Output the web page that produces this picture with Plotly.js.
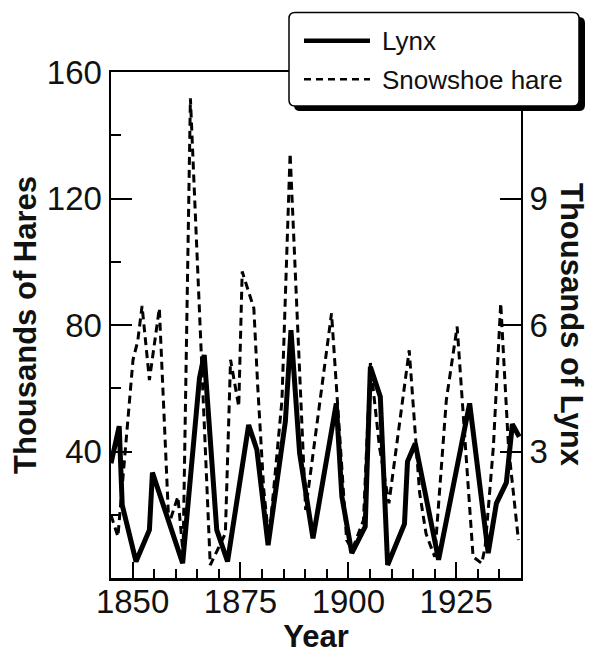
<!DOCTYPE html>
<html><head><meta charset="utf-8">
<script src="https://cdn.plot.ly/plotly-3.0.1.min.js"></script>
<style>html,body{margin:0;padding:0;background:#fff}#chart{width:589px;height:654px}</style>
</head><body><div id="chart"></div>
<script>
// Lynx pelts (thousands) - right axis
const lynxYears = [1845.0, 1846.9, 1847.6, 1850.8, 1853.9, 1854.6, 1861.6, 1865.5, 1866.6, 1869.5, 1872.0, 1876.9, 1878.8, 1881.4, 1885.4, 1886.7, 1888.7, 1891.8, 1897.2, 1898.5, 1900.8, 1903.9, 1905.1, 1907.4, 1909.1, 1913.0, 1913.7, 1915.5, 1920.9, 1928.1, 1932.4, 1934.3, 1936.6, 1938.0, 1939.6];
const lynxThousands = [2.72, 3.60, 1.73, 0.39, 1.14, 2.50, 0.35, 4.74, 5.29, 1.14, 0.39, 3.63, 3.04, 0.78, 3.71, 5.88, 2.96, 0.94, 4.14, 1.93, 0.59, 1.22, 5.01, 4.30, 0.31, 1.28, 2.76, 3.19, 0.43, 4.14, 0.59, 1.77, 2.26, 3.65, 3.35];
// Snowshoe hare pelts (thousands) - left axis
const hareYears = [1845.0, 1846.6, 1850.1, 1851.2, 1852.2, 1853.9, 1856.2, 1858.4, 1860.5, 1861.7, 1863.4, 1868.0, 1871.5, 1872.7, 1874.6, 1875.4, 1878.1, 1879.0, 1880.4, 1881.6, 1884.6, 1886.5, 1890.1, 1896.1, 1899.6, 1900.9, 1903.5, 1905.1, 1907.2, 1909.4, 1914.1, 1916.5, 1918.0, 1920.0, 1922.7, 1925.2, 1928.9, 1930.9, 1931.7, 1933.6, 1935.3, 1937.1, 1939.4];
const hareThousands = [19.9, 13.1, 69.0, 75.0, 86.0, 62.6, 85.3, 17.0, 25.7, 7.8, 151.7, 4.1, 14.1, 69.0, 54.2, 96.9, 85.3, 60.5, 27.8, 12.0, 56.0, 134.3, 21.5, 83.7, 12.0, 8.9, 18.3, 68.0, 41.5, 23.6, 72.0, 27.0, 14.0, 6.7, 56.3, 79.5, 6.7, 4.6, 9.9, 41.5, 86.9, 41.5, 12.0];

const xTickVals = [1850, 1875, 1900, 1925];
const xTickText = ['1850', '1875', '1900', '1925'];
const hareTickVals = [40, 80, 120, 160];
const hareTickText = ['40', '80', '120', '160'];
const lynxTickVals = [3, 6, 9];
const lynxTickText = ['3', '6', '9'];
const seriesNames = ['Lynx', 'Snowshoe hare'];

const F = 'Liberation Sans, Arial, Helvetica, sans-serif';
const L = 111, R = 68, T = 72, B = 76, W = 589, H = 654;
const pw = W - L - R, ph = H - T - B;
const px = v => (v - L) / pw;
const py = v => (H - B - v) / ph;

const lynxLine = {color: '#000', width: 5};
const hareLine = {color: '#000', width: 3, dash: '8px,5px'};

const traces = [
  {name: seriesNames[0], x: lynxYears, y: lynxThousands, yaxis: 'y2', type: 'scatter', mode: 'lines',
   line: lynxLine, hoverinfo: 'skip', showlegend: false},
  {name: seriesNames[1], x: hareYears, y: hareThousands, yaxis: 'y', type: 'scatter', mode: 'lines',
   line: hareLine, hoverinfo: 'skip', showlegend: false}
];

// legend box (pixel geometry converted to paper coordinates)
function roundRect(x0, y0, x1, y1, r) {
  const X = v => px(v), Y = v => py(v);
  return 'M' + X(x0 + r) + ',' + Y(y0) + ' L' + X(x1 - r) + ',' + Y(y0) +
    ' Q' + X(x1) + ',' + Y(y0) + ' ' + X(x1) + ',' + Y(y0 + r) +
    ' L' + X(x1) + ',' + Y(y1 - r) +
    ' Q' + X(x1) + ',' + Y(y1) + ' ' + X(x1 - r) + ',' + Y(y1) +
    ' L' + X(x0 + r) + ',' + Y(y1) +
    ' Q' + X(x0) + ',' + Y(y1) + ' ' + X(x0) + ',' + Y(y1 - r) +
    ' L' + X(x0) + ',' + Y(y0 + r) +
    ' Q' + X(x0) + ',' + Y(y0) + ' ' + X(x0 + r) + ',' + Y(y0) + ' Z';
}

const shapes = [
  {type: 'path', xref: 'paper', yref: 'paper', path: roundRect(294, 17, 585, 111, 6),
   fillcolor: '#000', line: {width: 0}, layer: 'above'},
  {type: 'path', xref: 'paper', yref: 'paper', path: roundRect(289, 12.5, 579, 106, 6),
   fillcolor: '#fff', line: {color: '#000', width: 1.5}, layer: 'above'},
  {type: 'line', xref: 'paper', yref: 'paper', x0: px(304), x1: px(370), y0: py(40.7), y1: py(40.7),
   line: {color: '#000', width: 4.5}, layer: 'above'},
  {type: 'line', xref: 'paper', yref: 'paper', x0: px(304), x1: px(370), y0: py(79.3), y1: py(79.3),
   line: {color: '#000', width: 2.5, dash: '7px,5px'}, layer: 'above'}
];

const annotations = [
  {text: 'Thousands of Lynx', xref: 'paper', yref: 'paper', x: px(572), y: 0.5,
   xanchor: 'center', yanchor: 'middle', textangle: 90, showarrow: false,
   font: {size: 31, weight: 'bold', color: '#111'}},
  {text: seriesNames[0], xref: 'paper', yref: 'paper', x: px(380), y: py(41), xanchor: 'left', yanchor: 'middle',
   showarrow: false, font: {size: 26, color: '#111'}},
  {text: seriesNames[1], xref: 'paper', yref: 'paper', x: px(380), y: py(79.5), xanchor: 'left', yanchor: 'middle',
   showarrow: false, font: {size: 26, color: '#111'}}
];

const layout = {
  width: W, height: H,
  margin: {l: L, r: R, t: T, b: B, pad: 0},
  paper_bgcolor: '#fff', plot_bgcolor: '#fff',
  font: {family: F, size: 32, color: '#111'},
  showlegend: false,
  xaxis: {range: [1845, 1940], tickmode: 'array', tickvals: xTickVals, ticktext: xTickText,
          ticks: 'inside', ticklen: 16, tickwidth: 2, tickcolor: '#000',
          showline: true, linewidth: 2.5, linecolor: '#000', mirror: true,
          showgrid: false, zeroline: false, tickfont: {size: 33}, ticklabelstandoff: -7,
          minor: {dtick: 5, tick0: 1845, ticks: 'inside', ticklen: 9, tickwidth: 2, tickcolor: '#000', showgrid: false},
          title: {text: 'Year', font: {size: 31, weight: 'bold'}, standoff: 0}},
  yaxis: {range: [0, 160], tickmode: 'array', tickvals: hareTickVals, ticktext: hareTickText,
          ticks: 'inside', ticklen: 21, tickwidth: 2, tickcolor: '#000',
          showline: true, linewidth: 2.5, linecolor: '#000',
          showgrid: false, zeroline: false, tickfont: {size: 33},
          minor: {dtick: 20, tick0: 0, ticks: 'inside', ticklen: 10, tickwidth: 2, tickcolor: '#000', showgrid: false},
          title: {text: 'Thousands of Hares', font: {size: 31, weight: 'bold'}, standoff: 1}},
  yaxis2: {overlaying: 'y', side: 'right', range: [0, 12], tickmode: 'array', tickvals: lynxTickVals, ticktext: lynxTickText,
           ticks: 'inside', ticklen: 21, tickwidth: 2, tickcolor: '#000',
           showline: true, linewidth: 2, linecolor: '#000',
           showgrid: false, zeroline: false, tickfont: {size: 33}},
  annotations: annotations,
  shapes: shapes
};

Plotly.newPlot('chart', traces, layout, {staticPlot: true, displayModeBar: false});
</script>
</body></html>
